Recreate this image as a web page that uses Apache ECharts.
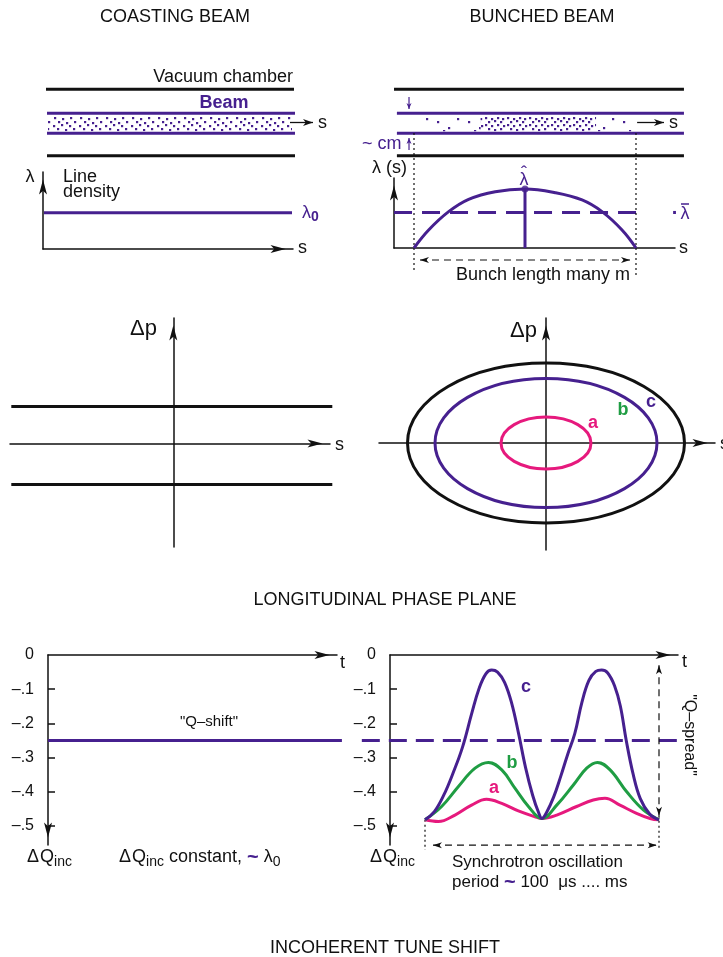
<!DOCTYPE html>
<html><head><meta charset="utf-8">
<script src="https://cdn.jsdelivr.net/npm/echarts@6/dist/echarts.min.js"></script>
<style>html,body{margin:0;padding:0;background:#fff}#c{width:723px;height:957px}</style>
</head><body><div id="c"></div>
<script>
// ================= DATA =================
// --- Coasting beam (top left); s in units of drawn length, y relative to chamber half-height
const coastWalls = [[0.012, 1, 1.004, 1], [0.016, -1, 1.008, -1]];
const coastBeamEdges = [[0.016, 0.277, 1.008, 0.277], [0.016, -0.325, 1.008, -0.325]];
const coastBeamBand = [[0.02, 0.996, 0.277, -0.325, 0]];
const coastDirArrow = [[0.988, 0, 1.08, 0]];
const coastLambda0 = [[0.004, 1], [0.996, 1]];

// --- Bunched beam (top right); s = 0..1 over one bunch
const bunchWalls = [[-0.09, 1, 1.216, 1], [-0.077, -1, 1.216, -1]];
const bunchBeamEdges = [[-0.077, 0.277, 1.216, 0.277], [-0.077, -0.325, 1.216, -0.325]];
const bunchDensityZones = [[0.027, 0.30, 0.277, -0.325, 2], [0.30, 0.82, 0.277, -0.325, 1], [0.82, 0.98, 0.277, -0.325, 2]];
const bunchSizeArrows = [[-0.0225, 0.77, -0.0225, 0.405], [-0.0225, -0.83, -0.0225, -0.467]];
const bunchDirArrow = [[1.005, 0, 1.126, 0]];
const bunchS = [0, 0.066, 0.156, 0.246, 0.366, 0.5, 0.636, 0.757, 0.847, 0.937, 1];
const bunchLambda = [0, 0.305, 0.616, 0.825, 0.955, 1, 0.938, 0.814, 0.616, 0.305, 0];
const bunchPeakStem = [[0.5, 0], [0.5, 1]];
const bunchMean = 0.6;
const bunchMeanSpan = [-0.09, 1.04];
const bunchEdgeMarks = [[0, 1.95, 0, -0.41], [1, 1.95, 1, -0.49]];
const bunchLengthArrow = [[0.027, -0.203, 0.973, -0.203]];

// --- Longitudinal phase plane
const coastPhaseDp = [0.37, -0.41];
const coastPhaseSpan = [-1.62, 1.59];
const phaseEllipseRx = [0.45, 1.11, 1.385];
const phaseEllipseRy = [0.26, 0.645, 0.80];

// --- Incoherent tune shift
const tuneTickValues = [0, -0.1, -0.2, -0.3, -0.4, -0.5];
const tuneTickLabels = ['0', '–.1', '–.2', '–.3', '–.4', '–.5'];
const qShift = -0.25;
const qShiftSpan = [0, 1.017];
const qMeanSpan = [-0.27, 1.098];
const tC = [0, 0.04, 0.08, 0.12, 0.16, 0.20, 0.23, 0.26, 0.285, 0.31, 0.34, 0.37, 0.40, 0.43, 0.46, 0.485, 0.5, 0.52, 0.55, 0.58, 0.61, 0.64, 0.67, 0.70, 0.73, 0.755, 0.78, 0.81, 0.835, 0.86, 0.89, 0.92, 0.96, 1.0];
const qC = [-0.482, -0.458, -0.41, -0.345, -0.27, -0.17, -0.10, -0.055, -0.044, -0.05, -0.08, -0.14, -0.23, -0.33, -0.41, -0.46, -0.478, -0.46, -0.415, -0.355, -0.29, -0.23, -0.14, -0.075, -0.048, -0.044, -0.052, -0.09, -0.15, -0.25, -0.35, -0.42, -0.465, -0.482];
const tB = [0, 0.071, 0.142, 0.214, 0.271, 0.328, 0.385, 0.442, 0.5, 0.563, 0.634, 0.691, 0.737, 0.791, 0.862, 0.933, 1.0];
const qB = [-0.482, -0.443, -0.385, -0.331, -0.314, -0.336, -0.390, -0.443, -0.478, -0.439, -0.380, -0.331, -0.314, -0.336, -0.400, -0.453, -0.482];
const tA = [0, 0.057, 0.128, 0.199, 0.263, 0.328, 0.399, 0.470, 0.5, 0.563, 0.648, 0.719, 0.769, 0.833, 0.904, 0.962, 1.0];
const qA = [-0.482, -0.487, -0.468, -0.439, -0.422, -0.434, -0.456, -0.473, -0.478, -0.468, -0.443, -0.424, -0.419, -0.439, -0.463, -0.478, -0.482];
const qSpreadArrow = [[1.0, -0.03, 1.0, -0.47]];
const periodEdgeMarks = [[0, -0.482, 0, -0.57], [1.0, -0.47, 1.0, -0.57]];
const periodArrow = [[0.034, -0.556, 0.99, -0.556]];

// ================= STYLE / LAYOUT =================
const FONT = "'Liberation Sans', Arial, Helvetica, sans-serif";
const PURPLE = '#46208f', PINK = '#e6197d', GREEN = '#1f9d43', BLACK = '#111111';
const LAYOUT = [
  [43, 89.3, 250, 66.4],   // 0 coasting schematic
  [43, 172, 250, 77],      // 1 coasting λ
  [395, 89.3, 289, 66.4],  // 2 bunched schematic
  [394, 178, 281, 70],     // 3 bunched λ(s)
  [10, 318, 320, 229],     // 4 phase plane coasting
  [379, 318, 336, 232],    // 5 phase plane bunched
  [48, 655, 289, 190],     // 6 tune coasting
  [390, 655, 288, 190]     // 7 tune bunched
];
const RANGES = [
  [[0, 1], [-1, 1]],
  [[0, 1], [0, 2.12]],
  [[-0.0856, 1.2162], [-1, 1]],
  [[-0.0901, 1.1757], [0, 1.1864]],
  [[-1.633, 1.567], [-1.035, 1.255]],
  [[-1.67, 1.69], [-1.07, 1.25]],
  [[0, 1], [-0.5556, 0]],
  [[-0.1496, 1.0812], [-0.5556, 0]]
];

// dot textures for the beam
function makeTile(w, dots) {
  const c = document.createElement('canvas');
  c.width = w; c.height = 140;
  const g = c.getContext('2d');
  g.fillStyle = PURPLE;
  dots.forEach(d => g.fillRect(d[0], d[1], 2.2, 2.2));
  return { image: c, repeat: 'repeat' };
}
const TILES = [
  makeTile(26, [[2,117],[10,118],[18,117],[6,121],[14,122],[22,121],[1,125],[9,124],[17,125],[5,128],[13,129],[21,128]]),
  makeTile(22, [[1,117],[7,118],[13,117],[18,118],[4,121],[10,120],[16,121],[1,124],[7,125],[13,124],[19,125],[4,128],[10,129],[16,128]]),
  makeTile(31, [[3,121],[14,127],[23,118],[9,130]])
];

function axis(i, dim, o) {
  const r = RANGES[i][dim === 'x' ? 0 : 1];
  return Object.assign({
    type: 'value', gridIndex: i, min: r[0], max: r[1],
    axisLine: { show: false }, axisTick: { show: false },
    axisLabel: { show: false }, splitLine: { show: false }
  }, o || {});
}
function arrowLine(symbol, offset, onZero) {
  return { show: true, onZero: onZero !== false, symbol: symbol, symbolSize: [6, 15], symbolOffset: offset,
    lineStyle: { color: BLACK, width: 1.5 } };
}
const END = [['none', 'arrow'], [0, -7.5]];
const START = [['arrow', 'none'], [7.5, 0]];
const tuneY = (i) => axis(i, 'y', {
  axisLine: arrowLine(START[0], START[1], false),
  axisTick: { show: true, inside: true, length: 7, customValues: tuneTickValues.slice(1), lineStyle: { color: BLACK, width: 1.5 } },
  axisLabel: { show: true, customValues: tuneTickValues, margin: 14, fontSize: 16, fontFamily: FONT, color: BLACK,
    formatter: v => tuneTickLabels[Math.round(-v * 10)] }
});
const xAxes = [
  axis(0, 'x', { show: false }),
  axis(1, 'x', { axisLine: arrowLine(END[0], END[1]) }),
  axis(2, 'x', { show: false }),
  axis(3, 'x', { axisLine: { show: true, lineStyle: { color: BLACK, width: 1.5 } } }),
  axis(4, 'x', { axisLine: arrowLine(END[0], END[1]) }),
  axis(5, 'x', { axisLine: arrowLine(END[0], END[1]) }),
  axis(6, 'x', { axisLine: arrowLine(END[0], END[1]) }),
  axis(7, 'x', { axisLine: arrowLine(END[0], END[1]) })
];
const yAxes = [
  axis(0, 'y', { show: false }),
  axis(1, 'y', { axisLine: arrowLine(END[0], END[1]) }),
  axis(2, 'y', { show: false }),
  axis(3, 'y', { axisLine: arrowLine(END[0], END[1], false) }),
  axis(4, 'y', { axisLine: arrowLine(END[0], END[1]) }),
  axis(5, 'y', { axisLine: arrowLine(END[0], END[1]) }),
  tuneY(6),
  tuneY(7)
];

function headPoly(tip, from, h, color) {
  const L = h[0], W = h[1];
  const dx = tip[0] - from[0], dy = tip[1] - from[1];
  const len = Math.hypot(dx, dy) || 1;
  const ux = dx / len, uy = dy / len, px = -uy, py = ux;
  const bx = tip[0] - ux * L, by = tip[1] - uy * L;
  const nx = tip[0] - ux * L * 0.72, ny = tip[1] - uy * L * 0.72;
  return { type: 'polygon', shape: { points: [tip, [bx + px * W / 2, by + py * W / 2], [nx, ny], [bx - px * W / 2, by - py * W / 2]] },
    style: { fill: color, stroke: null } };
}
function segSeries(i, data, st, heads, z) {
  return {
    type: 'custom', xAxisIndex: i, yAxisIndex: i, data: data, z: z || 3, silent: true, clip: false,
    encode: { x: [0, 2], y: [1, 3] },
    renderItem: function (params, api) {
      const p1 = api.coord([api.value(0), api.value(1)]);
      const p2 = api.coord([api.value(2), api.value(3)]);
      const kids = [{ type: 'line', shape: { x1: p1[0], y1: p1[1], x2: p2[0], y2: p2[1] },
        style: { stroke: st.color, lineWidth: st.width, lineDash: st.dash || null, fill: null } }];
      if (heads && heads[0]) kids.push(headPoly(p1, p2, heads[0], st.color));
      if (heads && heads[1]) kids.push(headPoly(p2, p1, heads[1], st.color));
      return { type: 'group', children: kids };
    }
  };
}
function bandSeries(i, data) {
  return {
    type: 'custom', xAxisIndex: i, yAxisIndex: i, data: data, z: 1, silent: true, clip: false,
    encode: { x: [0, 1], y: [2, 3] },
    renderItem: function (params, api) {
      const a = api.coord([api.value(0), api.value(2)]);
      const b = api.coord([api.value(1), api.value(3)]);
      return { type: 'rect', shape: { x: a[0], y: a[1] + 2, width: b[0] - a[0], height: b[1] - a[1] - 4 },
        style: { fill: TILES[api.value(4)] } };
    }
  };
}
function lineSeries(i, data, color, width, o) {
  return Object.assign({
    type: 'line', xAxisIndex: i, yAxisIndex: i, data: data, showSymbol: false, silent: true, clip: false, z: 4,
    lineStyle: { color: color, width: width }, itemStyle: { color: color }
  }, o || {});
}
const zip = (xs, ys) => xs.map((x, k) => [x, ys[k]]);

const series = [
  // coasting schematic
  bandSeries(0, coastBeamBand),
  segSeries(0, coastWalls, { color: BLACK, width: 3 }),
  segSeries(0, coastBeamEdges, { color: PURPLE, width: 3 }),
  segSeries(0, coastDirArrow, { color: BLACK, width: 1.3 }, [null, [10, 7]], 5),
  // coasting λ
  lineSeries(1, coastLambda0, PURPLE, 3),
  // bunched schematic
  bandSeries(2, bunchDensityZones),
  segSeries(2, bunchWalls, { color: BLACK, width: 3 }),
  segSeries(2, bunchBeamEdges, { color: PURPLE, width: 3 }),
  segSeries(2, bunchSizeArrows, { color: PURPLE, width: 1.2 }, [null, [6, 5]]),
  segSeries(2, bunchDirArrow, { color: BLACK, width: 1.3 }, [null, [10, 7]], 5),
  // bunched λ(s)
  lineSeries(3, zip(bunchS, bunchLambda), PURPLE, 3, { smooth: 0.4 }),
  lineSeries(3, bunchPeakStem, PURPLE, 3),
  { type: 'scatter', xAxisIndex: 3, yAxisIndex: 3, data: [bunchPeakStem[1]], symbolSize: 7, itemStyle: { color: PURPLE }, silent: true, z: 5 },
  segSeries(3, [[bunchMeanSpan[0], bunchMean, bunchMeanSpan[1], bunchMean]], { color: PURPLE, width: 3, dash: [18, 10] }),
  segSeries(3, bunchEdgeMarks, { color: BLACK, width: 1.2, dash: [2, 3] }),
  segSeries(3, bunchLengthArrow, { color: BLACK, width: 1.2, dash: [7, 5] }, [[9, 6], [9, 6]]),
  // phase plane coasting
  segSeries(4, coastPhaseDp.map(d => [coastPhaseSpan[0], d, coastPhaseSpan[1], d]), { color: BLACK, width: 3 }),
  // phase plane bunched
  {
    type: 'custom', xAxisIndex: 5, yAxisIndex: 5, silent: true, clip: false, z: 3,
    data: phaseEllipseRx.map((rx, k) => [rx, phaseEllipseRy[k]]),
    encode: { x: 0, y: 1 },
    renderItem: function (params, api) {
      const c = api.coord([0, 0]);
      const sz = api.size([api.value(0), api.value(1)]);
      const col = [PINK, PURPLE, BLACK][params.dataIndex];
      return { type: 'ellipse', shape: { cx: c[0], cy: c[1], rx: sz[0], ry: sz[1] },
        style: { fill: null, stroke: col, lineWidth: 3 } };
    }
  },
  // tune shift coasting
  segSeries(6, [[qShiftSpan[0], qShift, qShiftSpan[1], qShift]], { color: PURPLE, width: 3 }),
  // tune shift bunched
  segSeries(7, [[qMeanSpan[0], qShift, qMeanSpan[1], qShift]], { color: PURPLE, width: 3, dash: [18, 9] }),
  lineSeries(7, zip(tA, qA), PINK, 3, { smooth: 0.4 }),
  lineSeries(7, zip(tB, qB), GREEN, 3, { smooth: 0.4 }),
  lineSeries(7, zip(tC, qC), PURPLE, 3, { smooth: 0.4 }),
  segSeries(7, qSpreadArrow, { color: BLACK, width: 1.2, dash: [7, 5] }, [[9, 6], [9, 6]]),
  segSeries(7, periodEdgeMarks, { color: BLACK, width: 1.2, dash: [2, 3] }),
  segSeries(7, periodArrow, { color: BLACK, width: 1.2, dash: [7, 5] }, [[9, 6], [9, 6]])
];

// ================= TEXT =================
const mctx = document.createElement('canvas').getContext('2d');
function txt(t, x, y, o) {
  o = o || {};
  return { type: 'text', x: x, y: y, rotation: o.rot || 0, silent: true, z: 10,
    style: { text: t, fill: o.color || BLACK, fontSize: o.size || 18, fontFamily: FONT, fontWeight: o.weight || 'normal',
      align: o.align || 'left', verticalAlign: 'middle', lineHeight: o.lh || undefined } };
}
function runs(x, y, parts) {
  let cx = x; const out = [];
  parts.forEach(p => {
    const size = p.size || 18, weight = p.weight || 'normal';
    mctx.font = weight + ' ' + size + 'px ' + FONT;
    out.push(txt(p.t, cx, y + (p.dy || 0), { size: size, weight: weight, color: p.color }));
    cx += mctx.measureText(p.t).width + (p.gap || 0);
  });
  return out;
}
const dQinc = [{ t: 'Δ', gap: 1 }, { t: 'Q' }, { t: 'inc', size: 14, dy: 5 }];
const texts = [
  txt('COASTING BEAM', 175, 17, { align: 'center' }),
  txt('BUNCHED BEAM', 542, 17, { align: 'center' }),
  txt('Vacuum chamber', 293, 77, { align: 'right' }),
  txt('Beam', 224, 103, { align: 'center', weight: 'bold', color: PURPLE }),
  txt('s', 318, 123),
  txt('λ', 30, 177, { align: 'center' }),
  txt('Line\ndensity', 63, 185, { lh: 15 }),
  ...runs(302, 213, [{ t: 'λ', color: PURPLE }, { t: '0', color: PURPLE, size: 14, weight: 'bold', dy: 4 }]),
  txt('s', 298, 248),
  txt('s', 669, 123),
  ...runs(362, 144, [{ t: '~', color: PURPLE }, { t: ' cm', color: PURPLE }]),
  txt('λ (s)', 372, 168),
  txt('λ', 524, 180, { align: 'center', color: PURPLE }),
  txt('ˆ', 524, 174, { align: 'center', color: PURPLE }),
  txt('·', 675, 213, { align: 'center', color: PURPLE, weight: 'bold', size: 20 }),
  txt('λ', 685, 214, { align: 'center', color: PURPLE }),
  { type: 'line', silent: true, z: 10, shape: { x1: 681, y1: 204, x2: 689, y2: 204 }, style: { stroke: PURPLE, lineWidth: 1.5 } },
  txt('s', 679, 248),
  txt('Bunch length many m', 543, 275, { align: 'center' }),
  txt('Δp', 157, 329, { align: 'right', size: 22 }),
  txt('s', 335, 445),
  txt('Δp', 537, 331, { align: 'right', size: 22 }),
  txt('s', 720, 444),
  txt('a', 593, 423, { align: 'center', weight: 'bold', color: PINK }),
  txt('b', 623, 410, { align: 'center', weight: 'bold', color: GREEN }),
  txt('c', 651, 402, { align: 'center', weight: 'bold', color: PURPLE }),
  txt('LONGITUDINAL PHASE PLANE', 385, 600, { align: 'center' }),
  txt('t', 340, 663),
  txt('"Q–shift"', 209, 722, { align: 'center', size: 15 }),
  ...runs(27, 857, dQinc),
  ...runs(119, 857, dQinc.concat([{ t: ' constant, ' }, { t: '~', color: PURPLE, size: 20, weight: 'bold' }, { t: ' λ' }, { t: '0', size: 14, dy: 5 }])),
  txt('t', 682, 662),
  txt('c', 526, 687, { align: 'center', weight: 'bold', color: PURPLE }),
  txt('b', 512, 763, { align: 'center', weight: 'bold', color: GREEN }),
  txt('a', 494, 788, { align: 'center', weight: 'bold', color: PINK }),
  txt('"Q–spread"', 689, 735, { align: 'center', rot: -Math.PI / 2, size: 16 }),
  ...runs(370, 857, dQinc),
  txt('Synchrotron oscillation', 452, 862, { size: 17 }),
  ...runs(452, 882, [{ t: 'period ', size: 17 }, { t: '~', color: PURPLE, size: 20, weight: 'bold' }, { t: ' 100  μs .... ms', size: 17 }]),
  txt('INCOHERENT TUNE SHIFT', 385, 948, { align: 'center' })
];

const chart = echarts.init(document.getElementById('c'));
chart.setOption({
  animation: false,
  backgroundColor: '#ffffff',
  grid: LAYOUT.map(g => ({ left: g[0], top: g[1], width: g[2], height: g[3], containLabel: false, outerBoundsMode: 'none' })),
  xAxis: xAxes,
  yAxis: yAxes,
  series: series,
  graphic: { elements: texts }
});
</script>
</body></html>
